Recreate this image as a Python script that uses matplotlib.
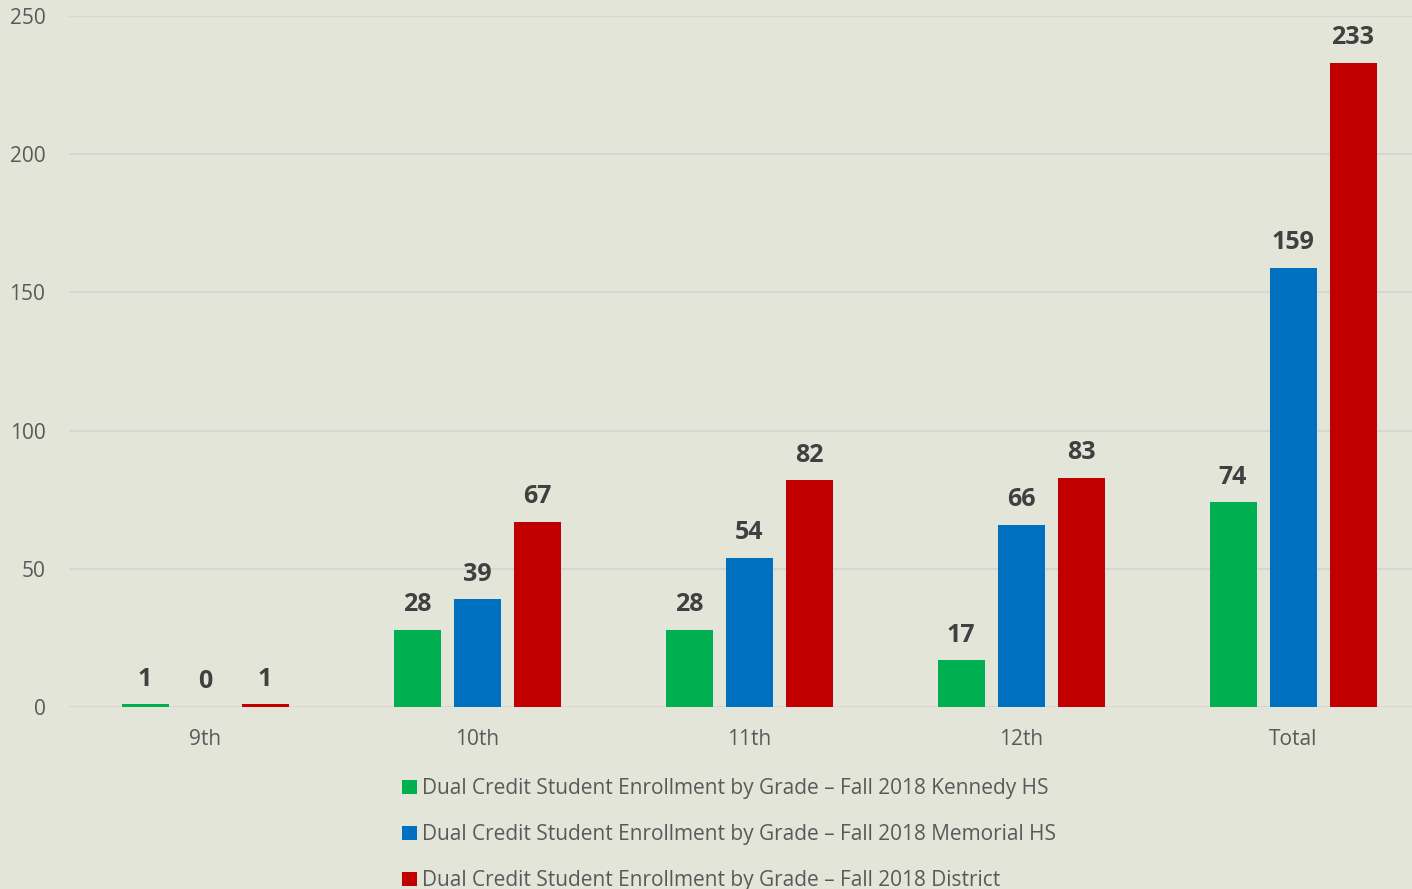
import numpy as np
import matplotlib.pyplot as plt

plt.rcParams['font.family'] = ['Open Sans', 'DejaVu Sans']

grades = ["9th", "10th", "11th", "12th", "Total"]
kennedy = [1, 28, 28, 17, 74]
memorial = [0, 39, 54, 66, 159]
district = [1, 67, 82, 83, 233]

series = [
    ("Dual Credit Student Enrollment by Grade \u2013 Fall 2018 Kennedy HS", kennedy, "#00B050"),
    ("Dual Credit Student Enrollment by Grade \u2013 Fall 2018 Memorial HS", memorial, "#0070C0"),
    ("Dual Credit Student Enrollment by Grade \u2013 Fall 2018 District", district, "#C00000"),
]

bg = "#E3E5D9"
fig = plt.figure(figsize=(14.12, 8.89), dpi=100, facecolor=bg)
ax = fig.add_axes([69 / 1412, 182 / 889, 1 - 69 / 1412, 691 / 889])
ax.set_facecolor(bg)

x = np.arange(len(grades))
width = 47 / 272
step = 60 / 272
handles = []
for i, (name, vals, col) in enumerate(series):
    bars = ax.bar(x + (i - 1) * step, vals, width, color=col, label=name, zorder=3)
    handles.append(bars)
    for b, v in zip(bars, vals):
        ax.annotate(str(v), (b.get_x() + b.get_width() / 2, v), xytext=(0, 9),
                    textcoords="offset points", ha="center", va="bottom",
                    fontsize=18, fontweight="bold", color="#404040")

ax.set_ylim(0, 250)
ax.set_xlim(-0.5, 4.5 - 17 / 272)
ax.set_yticks([0, 50, 100, 150, 200, 250])
ax.set_xticks(x)
ax.set_xticklabels(grades)
ax.grid(axis="y", color="#D6D7D2", linewidth=1.5, zorder=0)
ax.tick_params(axis="both", length=0, labelsize=15, labelcolor="#595959")
ax.tick_params(axis="y", pad=17)
ax.tick_params(axis="x", pad=16)
for s in ax.spines.values():
    s.set_visible(False)

fig.legend(handles=handles, loc="upper left", bbox_to_anchor=(392 / 1412, 1 - 768 / 889),
           frameon=False, fontsize=15, labelcolor="#595959", handlelength=0.7,
           handleheight=0.7, handletextpad=0.25, labelspacing=1.2, borderpad=0)

fig.savefig("out.png", dpi=100, facecolor=bg)
